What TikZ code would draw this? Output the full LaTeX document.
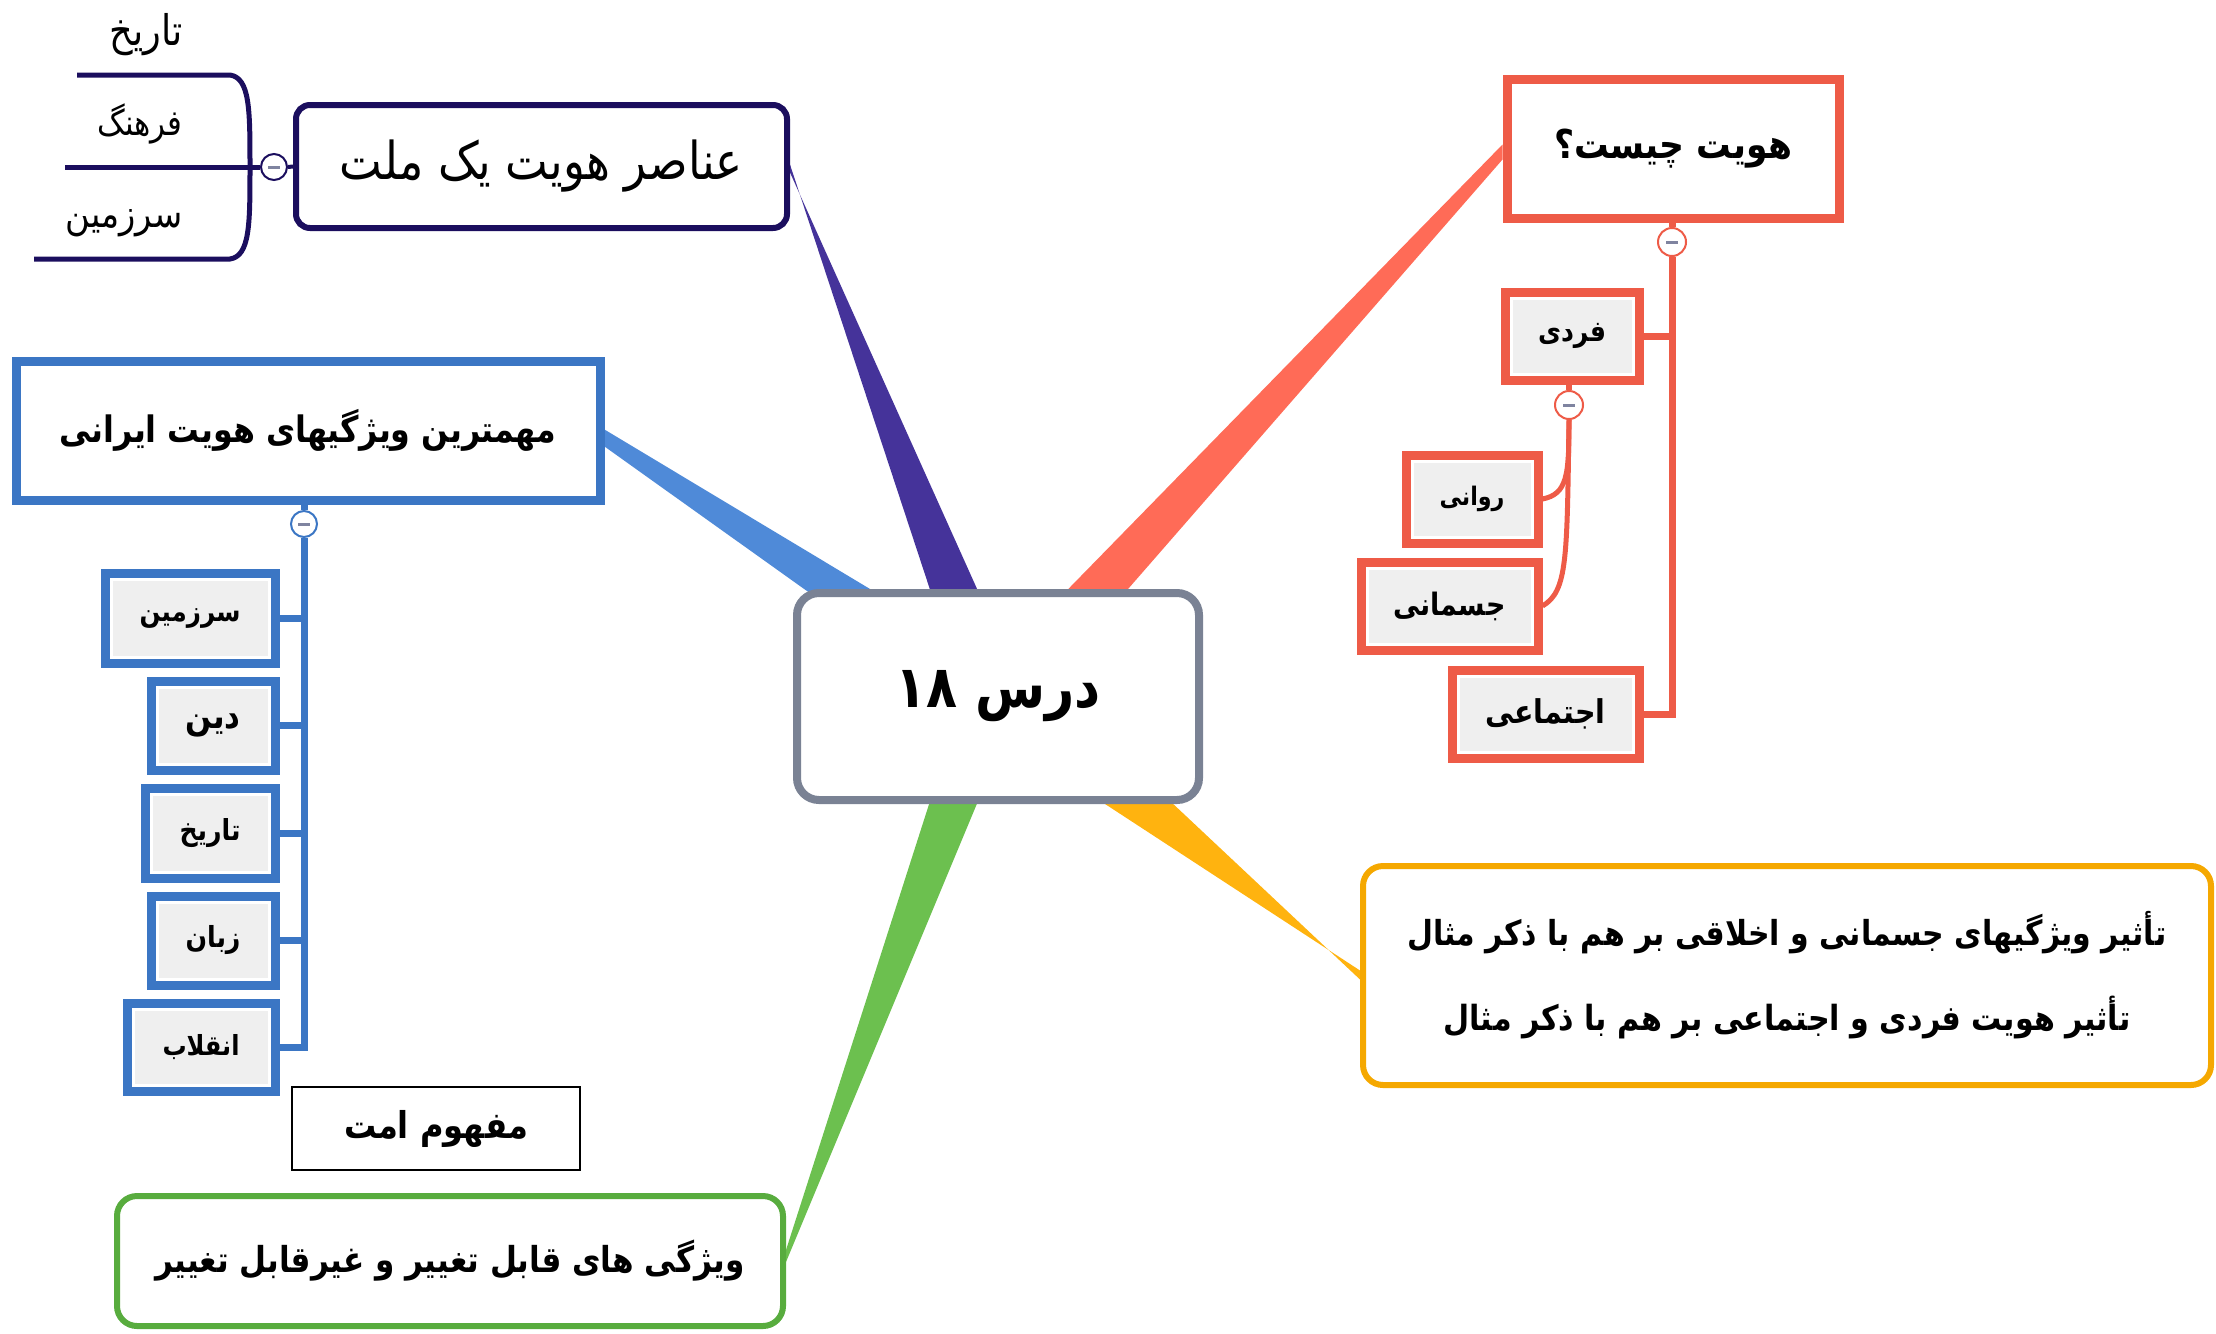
\documentclass[tikz,border=0pt]{standalone}
\usepackage{fontspec}
\usepackage{graphicx}
\usetikzlibrary{calc}
\TeXXeTstate=1
\newfontfamily\fa[Script=Arabic]{DejaVu Sans}
\newcommand\fat[2]{\scalebox{1}[1.15]{\resizebox{#1}{!}{\fa #2}}}
\newcommand\fab[2]{\scalebox{1}[1.15]{\resizebox{#1}{!}{\fa\bfseries #2}}}
\definecolor{navyB}{HTML}{1B0E5E}
\definecolor{navyT}{HTML}{45339A}
\definecolor{centB}{HTML}{7A8294}
\definecolor{blueB}{HTML}{3B76C4}
\definecolor{blueT}{HTML}{4F8AD8}
\definecolor{redB}{HTML}{EE5B47}
\definecolor{redT}{HTML}{FF6B57}
\definecolor{orB}{HTML}{F5A800}
\definecolor{orT}{HTML}{FFB30F}
\definecolor{grB}{HTML}{58AC3E}
\definecolor{grT}{HTML}{6CC04F}
\definecolor{subgray}{HTML}{EFEFEF}
\definecolor{minusc}{HTML}{7F84A0}
\pgfdeclarelayer{bg}
\pgfsetlayers{bg,main}
\tikzset{
  sz/.style 2 args={minimum width=#1, minimum height=#2},
  sqbox/.style={draw=#1, fill=white, inner sep=0pt, line width=4.5pt},
  rbox/.style={draw=#1, fill=white, inner sep=0pt, line width=3pt, rounded corners=10pt},
  subbox/.style={draw=#1, fill=white, inner sep=0pt, line width=4.5pt,
    path picture={\fill[subgray] ([shift={(3.75pt,3.75pt)}]path picture bounding box.south west) rectangle ([shift={(-3.75pt,-3.75pt)}]path picture bounding box.north east);}},
  coll/.style={circle, draw=#1, fill=white, line width=1pt, minimum size=13pt, inner sep=0pt,
    path picture={\draw[minusc, line width=1.5pt] ([xshift=-3pt]path picture bounding box.center) -- ([xshift=3pt]path picture bounding box.center);}},
  lbl/.style={inner sep=0pt},
}
\begin{document}
\begin{tikzpicture}[x=0.5pt,y=-0.5pt]
\useasboundingbox (0,0) rectangle (2216,1333);

% central node
\node[draw=centB, fill=white, line width=4pt, rounded corners=11pt, inner sep=0pt, sz={201pt}{103.5pt}] (c) at (998,696.5) {\fab{102.5pt}{\beginR درس ۱۸\endR}};

% navy branch
\node[rbox=navyB, rounded corners=7pt, sz={245.5pt}{61.5pt}] (A) at (541.5,166.5) {\fat{201.5pt}{\beginR عناصر هویت یک ملت\endR}};
\node[coll=navyB] (cA) at (274,167) {};
\node[lbl, anchor=east] (t1) at (183,35) {\fat{36.5pt}{\beginR تاریخ\endR}};
\node[lbl, anchor=east] (t2) at (183,124) {\fat{42.5pt}{\beginR فرهنگ\endR}};
\node[lbl, anchor=east] (t3) at (183,223) {\fat{58.5pt}{\beginR سرزمین\endR}};
\coordinate (u1s) at (77,75);  \coordinate (u1e) at (230,75);
\coordinate (u2s) at (65,167); \coordinate (b0) at (250,167);
\coordinate (u3s) at (34,259); \coordinate (u3e) at (230,259);
\draw[navyB, line width=2.5pt] (u1s) -- (u1e) .. controls (250,78) and (250,110) .. (b0) .. controls (250,224) and (250,256) .. (u3e) -- (u3s);
\draw[navyB, line width=2.5pt] (u2s) -- (b0) -- (cA.west);
\draw[navyB, line width=2pt] (cA.east) -- (A.west);

% blue branch
\node[sqbox=blueB, sz={292pt}{69.5pt}] (B) at (308,430.5) {\fab{248.5pt}{\beginR مهمترین ویژگیهای هویت ایرانی\endR}};
\node[coll=blueB] (cB) at (304,524) {};
\node[subbox=blueB, sz={85pt}{45pt}] (s1) at (190,618) {\fab{50.5pt}{\beginR سرزمین\endR}};
\node[subbox=blueB, sz={62pt}{44.5pt}] (s2) at (213,725.5) {\fab{27.5pt}{\beginR دین\endR}};
\node[subbox=blueB, sz={65pt}{45pt}] (s3) at (210,833) {\fab{30.5pt}{\beginR تاریخ\endR}};
\node[subbox=blueB, sz={62pt}{44.5pt}] (s4) at (213,940.5) {\fab{27.5pt}{\beginR زبان\endR}};
\node[subbox=blueB, sz={74pt}{44pt}] (s5) at (201,1047) {\fab{38.5pt}{\beginR انقلاب\endR}};
\draw[blueB, line width=3.5pt] (B.south -| cB.center) -- (cB.north);
\draw[blueB, line width=3.5pt] (cB.south) -- (s5.east -| cB.center) -- (s5.east);
\foreach \s in {s1,s2,s3,s4} \draw[blueB, line width=3.5pt] (\s.east) -- (\s.east -| cB.center);

% concept box
\node[draw=black, fill=white, line width=1pt, inner sep=0pt, sz={144pt}{41.5pt}] (M) at (436,1128.5) {\fab{92pt}{\beginR مفهوم امت\endR}};

% green branch
\node[rbox=grB, sz={333pt}{65pt}] (G) at (450,1261) {\fab{295pt}{\beginR ویژگی های قابل تغییر و غیرقابل تغییر\endR}};

% red branch
\node[sqbox=redB, sz={166pt}{69.5pt}] (R) at (1673,148.5) {\fab{119pt}{\beginR هویت چیست؟\endR}};
\node[coll=redB, minimum size=14pt] (cR) at (1672,242) {};
\node[subbox=redB, sz={67pt}{44pt}] (F) at (1572,336) {\fab{34pt}{\beginR فردی\endR}};
\node[coll=redB, minimum size=14pt] (cF) at (1569,405) {};
\node[subbox=redB, sz={66pt}{44pt}] (Rv) at (1472,499) {\fab{32.5pt}{\beginR روانی\endR}};
\node[subbox=redB, sz={88.5pt}{44pt}] (J) at (1449.5,606) {\fab{56pt}{\beginR جسمانی\endR}};
\node[subbox=redB, sz={93.5pt}{44pt}] (S) at (1545.5,714) {\fab{60pt}{\beginR اجتماعی\endR}};
\draw[redB, line width=3.5pt] (R.south -| cR.center) -- (cR.north);
\draw[redB, line width=3.5pt] (cR.south) -- (S.east -| cR.center) -- (S.east);
\draw[redB, line width=3.5pt] (F.east) -- (F.east -| cR.center);
\draw[redB, line width=3pt] (F.south -| cF.center) -- (cF.north);
\draw[redB, line width=2.5pt] (cF.south) .. controls +(0,55) and +(25,-5) .. (Rv.east);
\draw[redB, line width=2.5pt] (cF.south) .. controls +(-2,140) and +(25,-15) .. (J.east);

% orange branch
\node[rbox=orB, align=center, sz={424pt}{109.5pt}] (O) at (1787,975.5) {\fab{379.5pt}{\beginR تأثیر ویژگیهای جسمانی و اخلاقی بر هم با ذکر مثال\endR}\\[20pt]\fab{343.5pt}{\beginR تأثیر هویت فردی و اجتماعی بر هم با ذکر مثال\endR}};

% tapered connectors
\begin{pgfonlayer}{bg}
\fill[navyT] ($(A.east)+(0,-2)$) -- ($(c.center)+(-58,-76.5)$) -- ($(c.center)+(-7,-76.5)$) -- ($(A.east)+(0,6)$) -- cycle;
\fill[blueT] ($(B.east)+(0,-1)$) -- ($(c.center)+(-98,-89.5)$) -- ($(c.center)+(-128,-60.5)$) -- ($(B.east)+(0,16)$) -- cycle;
\fill[redT] ($(R.west)+(0,-4)$) -- ($(R.west)+(0,11)$) -- ($(c.center)+(103,-76.5)$) -- ($(c.center)+(40,-76.5)$) -- cycle;
\fill[grT] ($(G.east)+(0,-11)$) -- ($(c.center)+(-58,73.5)$) -- ($(c.center)+(-7,73.5)$) -- ($(G.east)+(0,1)$) -- cycle;
\fill[orT] ($(O.west)+(0,-5)$) -- ($(c.center)+(55,73.5)$) -- ($(c.center)+(139,73.5)$) -- ($(O.west)+(0,4)$) -- cycle;
\end{pgfonlayer}
\end{tikzpicture}
\end{document}
